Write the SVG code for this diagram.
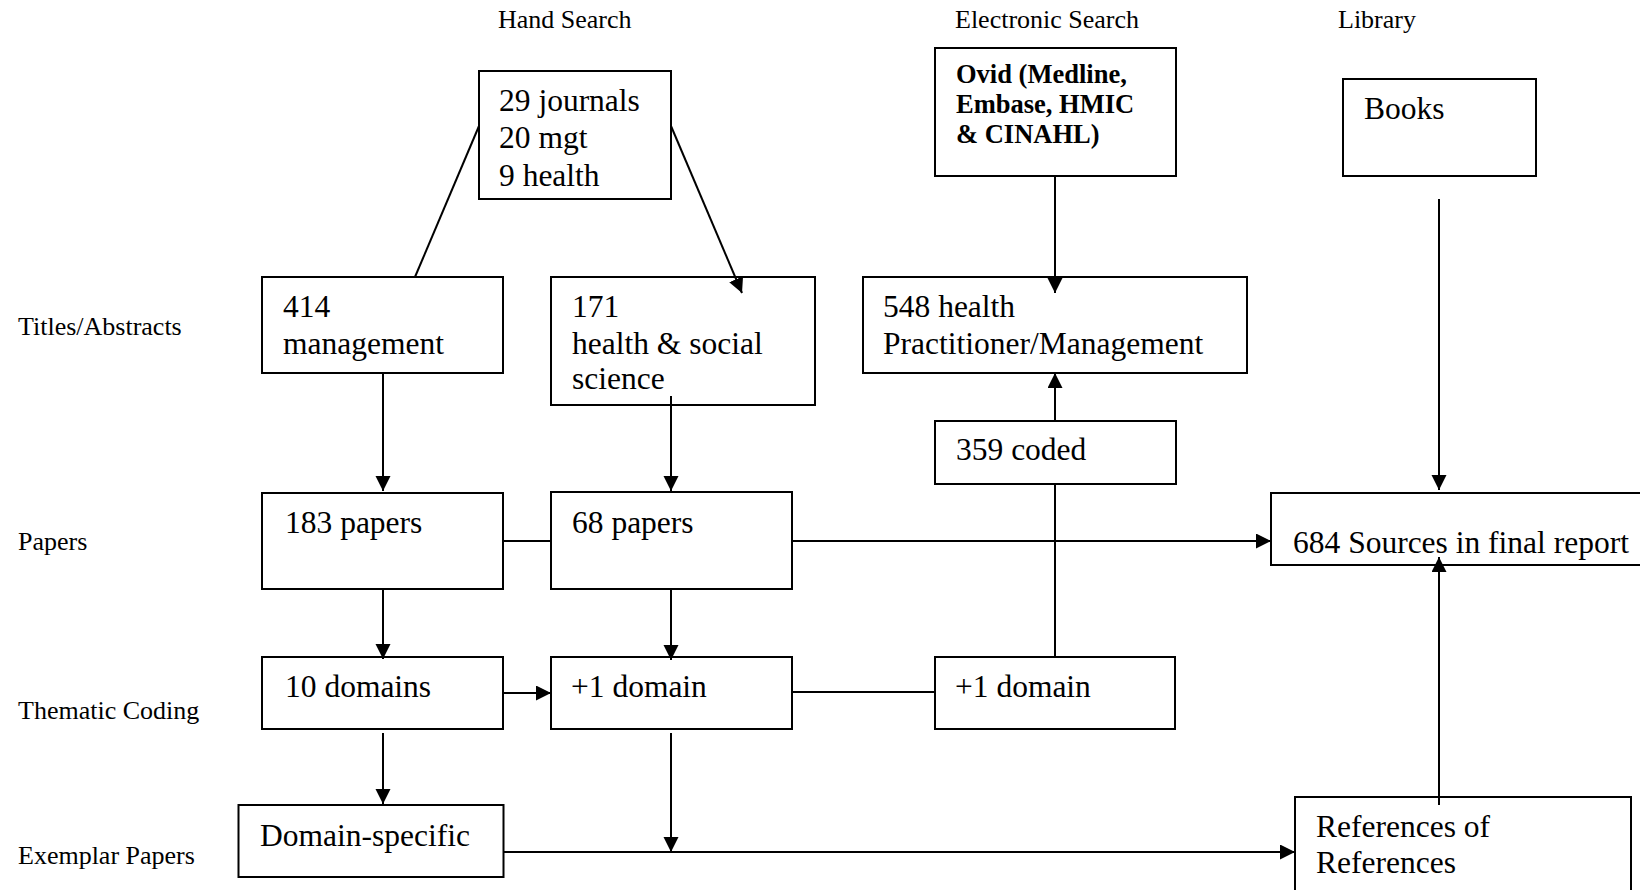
<svg xmlns="http://www.w3.org/2000/svg" width="1640" height="890" viewBox="0 0 1640 890">
  <style>
    .box { fill: #ffffff; stroke: #000000; stroke-width: 2; }
    .txt { font-family: "Liberation Serif", "Times New Roman", serif; font-size: 31.5px; fill: #000000; }
    .bold { font-family: "Liberation Serif", "Times New Roman", serif; font-size: 26.5px; font-weight: bold; fill: #000000; }
    .lbl { font-family: "Liberation Serif", "Times New Roman", serif; font-size: 26px; fill: #000000; }
    .ln { fill: none; stroke: #000000; stroke-width: 2; }
    .ar { fill: none; stroke: #000000; stroke-width: 2; marker-end: url(#head); }
  </style>
  <defs>
    <marker id="head" markerUnits="userSpaceOnUse" markerWidth="16" markerHeight="16" refX="15" refY="7.5" orient="auto">
      <path d="M0,0 L15,7.5 L0,15 Z" fill="#000000"/>
    </marker>
  </defs>
  <rect width="1640" height="890" fill="#ffffff"/>

  <!-- column headings -->
  <g id="headings">
    <text class="lbl" x="498" y="28">Hand Search</text>
    <text class="lbl" x="955" y="28">Electronic Search</text>
    <text class="lbl" x="1338" y="28">Library</text>
  </g>

  <!-- row headings -->
  <g id="stages">
    <text class="lbl" x="18" y="335">Titles/Abstracts</text>
    <text class="lbl" x="18" y="550">Papers</text>
    <text class="lbl" x="18" y="719">Thematic Coding</text>
    <text class="lbl" x="18" y="864">Exemplar Papers</text>
  </g>

  <g id="journals">
    <rect class="box" x="479" y="71" width="192" height="128"/>
    <text class="txt" x="499" y="111">29 journals</text>
    <text class="txt" x="499" y="148">20 mgt</text>
    <text class="txt" x="499" y="186">9 health</text>
  </g>

  <g id="ovid">
    <rect class="box" x="935" y="48" width="241" height="128"/>
    <text class="bold" x="956" y="83">Ovid (Medline,</text>
    <text class="bold" x="956" y="113">Embase, HMIC</text>
    <text class="bold" x="956" y="143">&amp; CINAHL)</text>
  </g>

  <g id="books">
    <rect class="box" x="1343" y="79" width="193" height="97"/>
    <text class="txt" x="1364" y="119">Books</text>
  </g>

  <g id="mgmt414">
    <rect class="box" x="262" y="277" width="241" height="96"/>
    <text class="txt" x="283" y="317">414</text>
    <text class="txt" x="283" y="354">management</text>
  </g>

  <g id="health171">
    <rect class="box" x="551" y="277" width="264" height="128"/>
    <text class="txt" x="572" y="317">171</text>
    <text class="txt" x="572" y="354">health &amp; social</text>
    <text class="txt" x="572" y="389">science</text>
  </g>

  <g id="health548">
    <rect class="box" x="863" y="277" width="384" height="96"/>
    <text class="txt" x="883" y="317">548 health</text>
    <text class="txt" x="883" y="354">Practitioner/Management</text>
  </g>

  <g id="coded359">
    <rect class="box" x="935" y="421" width="241" height="63"/>
    <text class="txt" x="956" y="460">359 coded</text>
  </g>

  <g id="papers183">
    <rect class="box" x="262" y="493" width="241" height="96"/>
    <text class="txt" x="285" y="533">183 papers</text>
  </g>

  <g id="papers68">
    <rect class="box" x="551" y="492" width="241" height="97"/>
    <text class="txt" x="572" y="533">68 papers</text>
  </g>

  <g id="sources684">
    <rect class="box" x="1271" y="493" width="380" height="72"/>
    <text class="txt" x="1293" y="553">684 Sources in final report</text>
  </g>

  <g id="domains10">
    <rect class="box" x="262" y="657" width="241" height="72"/>
    <text class="txt" x="285" y="697">10 domains</text>
  </g>

  <g id="domainPlus1a">
    <rect class="box" x="551" y="657" width="241" height="72"/>
    <text class="txt" x="571" y="697">+1 domain</text>
  </g>

  <g id="domainPlus1b">
    <rect class="box" x="935" y="657" width="240" height="72"/>
    <text class="txt" x="955" y="697">+1 domain</text>
  </g>

  <g id="domainSpecific">
    <rect class="box" x="238.5" y="805" width="265" height="72"/>
    <text class="txt" x="260" y="846">Domain-specific</text>
  </g>

  <g id="refsOfRefs">
    <rect class="box" x="1295" y="797" width="336" height="110"/>
    <text class="txt" x="1316" y="837">References of</text>
    <text class="txt" x="1316" y="873">References</text>
  </g>

  <!-- connectors, drawn over the boxes so heads that reach inside stay visible -->
  <g id="connectors">
    <path class="ln" d="M479,126 L415,277"/>
    <path class="ar" d="M671,126 L742,293"/>
    <path class="ar" d="M1055,176 L1055,293"/>
    <path class="ar" d="M1439,199 L1439,490"/>
    <path class="ar" d="M383,373 L383,491"/>
    <path class="ar" d="M671,396 L671,491"/>
    <path class="ar" d="M1055,421 L1055,373"/>
    <path class="ln" d="M503,541 L551,541"/>
    <path class="ar" d="M792,541 L1271,541"/>
    <path class="ln" d="M1055,484 L1055,657"/>
    <path class="ar" d="M383,589 L383,659"/>
    <path class="ar" d="M671,589 L671,660"/>
    <path class="ar" d="M503,693 L551,693"/>
    <path class="ln" d="M792,692 L935,692"/>
    <path class="ar" d="M383,733 L383,804"/>
    <path class="ar" d="M671,733 L671,852"/>
    <path class="ar" d="M503,852 L1295,852"/>
    <path class="ar" d="M1439,805 L1439,557"/>
  </g>
</svg>
